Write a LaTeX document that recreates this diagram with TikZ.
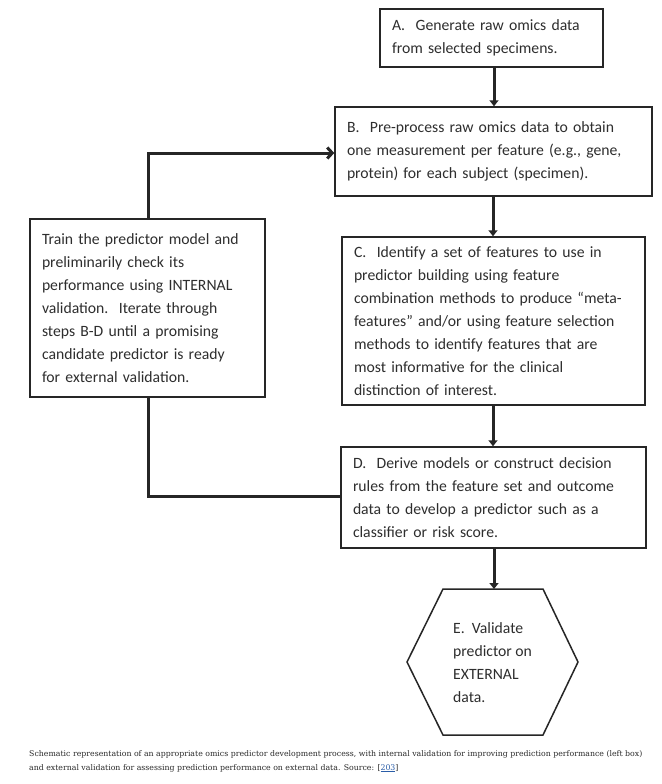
\documentclass[tikz,border=0pt]{standalone}
\usepackage{fontspec}
\setmainfont{Carlito}
\newfontfamily\capfont{DejaVu Serif}
\usetikzlibrary{arrows.meta}
\definecolor{txt}{HTML}{2E2E2E}
\definecolor{ln}{HTML}{262626}
\definecolor{captxt}{HTML}{2A2A2A}
\definecolor{linkc}{HTML}{2A5DA8}
\tikzset{
  stepbox/.style={draw=ln, line width=1.5pt, fill=white, inner sep=0pt, align=left, text=txt,
    font=\fontsize{15.7}{23}\selectfont},
  flow/.style={draw=ln, line width=3pt, -{Triangle[width=9pt,length=6pt]}},
  loopline/.style={draw=ln, line width=3pt},
  looparrow/.style={draw=ln, line width=3pt, -{Straight Barb[width=11pt,length=5pt,line width=3pt]}},
  boxtext/.style={align=left, text=txt, inner sep=0pt, font=\fontsize{15.7}{23}\selectfont},
  captext/.style={anchor=base west, inner sep=0pt, text=captxt, font=\capfont\fontsize{7.8}{10}\selectfont},
}
\newcommand{\mkbox}[6]{% name, x1, y1, x2, y2, text
  \node[stepbox, minimum width={(#4-#2)*1pt}, minimum height={(#5-#3)*1pt}, text width={(#4-#2-24)*1pt}]
    (#1) at ({(#2+#4)/2},{(#3+#5)/2}) {#6};}
\begin{document}
\begin{tikzpicture}[x=1pt,y=-1pt]
\useasboundingbox[fill=white] (0,0) rectangle (661,784);

\mkbox{A}{380}{9}{603}{67}{A.\ \ Generate raw omics data\\from selected specimens.}
\mkbox{B}{335}{107}{652}{196}{B.\ \ Pre-process raw omics data to obtain\\one measurement per feature (e.g., gene,\\protein) for each subject (specimen).}
\mkbox{C}{342}{237}{645}{405}{C.\ \ Identify a set of features to use in\\predictor building using feature\\combination methods to produce “meta-\\features” and/or using feature selection\\methods to identify features that are\\most informative for the clinical\\distinction of interest.}
\mkbox{D}{341}{447}{646}{548}{D.\ \ Derive models or construct decision\\rules from the feature set and outcome\\data to develop a predictor such as a\\classifier or risk score.}
\mkbox{L}{30}{219}{265}{397}{Train the predictor model and\\preliminarily check its\\performance using INTERNAL\\validation.\ \ Iterate through\\steps B-D until a promising\\candidate predictor is ready\\for external validation.}

% hexagon E
\coordinate (Etop) at (493,589);
\draw[draw=ln, line width=1.5pt, fill=white] (443,589) -- (543,589) -- (578,662) -- (543,735) -- (443,735) -- (407,662) -- cycle;
\node[boxtext, anchor=west] (E) at (453,663) {E.\ \ Validate\\predictor on\\EXTERNAL\\data.};

% main flow
\draw[flow] (A.south -| 494,0) -- (B.north -| 494,0);
\draw[flow] (B.south -| 493,0) -- (C.north -| 493,0);
\draw[flow] (C.south -| 493,0) -- (D.north -| 493,0);
\draw[flow] (D.south -| 494,0) -- (Etop -| 494,0);

% internal validation loop
\coordinate (Ltop) at (148,219);
\coordinate (Lbot) at (148,397);
\draw[looparrow] (L.north -| Ltop) -- (148,153) -- (B.west |- 0,153);
\draw[loopline] (L.south -| Lbot) -- (148,496) -- (D.west |- 0,496);

% caption
\node[captext] (cap) at (29,756)
 {Schematic representation of an appropriate omics predictor development process, with internal validation for improving prediction performance (left box)};
\node[captext] (cap2) at (29,770)
 {and external validation for assessing prediction performance on external data. Source: [{\color{linkc}\underline{203}}]};
\end{tikzpicture}
\end{document}
